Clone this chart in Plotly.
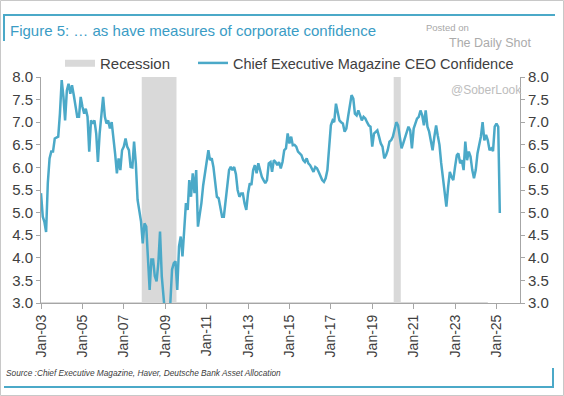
import pandas as pd
import plotly.graph_objects as go

# ---------------- data ----------------
start_month = "2003-01-01"
ceo_2003 = [5.43, 4.91, 4.80, 4.57, 5.65, 6.20, 6.35, 6.35, 6.64, 6.66, 6.68, 7.19]
ceo_2004 = [7.93, 7.56, 7.04, 7.70, 7.85, 7.63, 7.82, 7.60, 7.34, 7.12, 7.12, 7.56]
ceo_2005 = [7.34, 7.19, 7.30, 7.12, 6.35, 7.04, 6.97, 7.04, 6.75, 6.12, 6.75, 7.19]
ceo_2006 = [7.56, 7.12, 6.97, 7.04, 6.86, 7.00, 6.68, 6.30, 5.87, 6.20, 5.94, 6.38]
ceo_2007 = [6.46, 6.64, 6.46, 6.38, 6.01, 6.00, 6.57, 6.09, 5.28, 5.02, 4.80, 4.32]
ceo_2008 = [4.76, 4.69, 3.88, 3.29, 3.96, 3.96, 3.59, 3.48, 3.88, 4.58, 3.59, 2.95]
ceo_2009 = [2.70, 2.60, 2.85, 3.00, 3.74, 3.88, 3.92, 3.29, 4.25, 4.47, 4.03, 4.60]
ceo_2010 = [5.21, 5.06, 5.72, 5.35, 5.87, 5.43, 5.94, 4.69, 4.91, 5.21, 5.60, 5.87]
ceo_2011 = [6.16, 6.38, 6.16, 6.20, 6.01, 5.65, 5.35, 5.32, 5.13, 4.91, 4.91, 5.28]
ceo_2012 = [5.65, 5.94, 6.01, 5.94, 6.01, 5.85, 5.50, 5.35, 5.42, 5.42, 5.20, 5.06]
ceo_2013 = [5.43, 5.65, 5.61, 5.94, 6.05, 5.87, 6.09, 5.94, 5.79, 5.72, 5.65, 5.72]
ceo_2014 = [6.09, 6.12, 5.90, 6.16, 6.12, 6.05, 6.12, 5.98, 6.12, 6.38, 6.42, 6.75]
ceo_2015 = [6.53, 6.68, 6.49, 6.50, 6.46, 6.35, 6.31, 6.27, 6.16, 6.12, 6.20, 6.09]
ceo_2016 = [6.05, 5.98, 5.90, 6.01, 5.98, 5.90, 5.79, 5.72, 5.68, 5.76, 5.94, 6.38]
ceo_2017 = [6.93, 7.04, 7.00, 7.41, 7.23, 7.04, 7.00, 6.97, 6.79, 6.86, 7.12, 7.34]
ceo_2018 = [7.60, 7.52, 7.19, 7.15, 7.26, 7.15, 7.04, 7.12, 7.08, 7.00, 6.93, 6.90]
ceo_2019 = [6.46, 6.75, 6.79, 6.82, 6.68, 6.53, 6.46, 6.20, 6.27, 6.38, 6.57, 6.60]
ceo_2020 = [6.68, 6.82, 7.00, 6.93, 6.64, 6.42, 6.53, 6.64, 6.75, 6.90, 6.82, 6.42]
ceo_2021 = [6.86, 6.97, 7.08, 7.12, 7.26, 7.15, 6.93, 7.26, 6.90, 6.79, 6.60, 6.38]
ceo_2022 = [6.68, 6.93, 6.71, 6.50, 6.10, 5.80, 5.45, 5.13, 5.57, 5.90, 5.79, 5.72]
ceo_2023 = [6.01, 6.27, 6.31, 6.09, 6.16, 5.94, 6.57, 6.16, 6.35, 6.24, 5.94, 5.76]
ceo_2024 = [5.94, 6.31, 6.49, 6.68, 7.00, 6.60, 6.72, 6.60, 6.38, 6.42, 6.36, 6.90]
ceo_2025 = [6.97, 6.90, 4.99]

recession_periods = [("2007-12-01", "2009-06-01"), ("2020-02-01", "2020-04-01")]
recession_series_end = "2024-08-01"

y_range = [3.0, 8.0]
x_range = ["2003-01-01", "2026-02-20"]

title_text = "Figure 5: … as have measures of corporate confidence"
source_text = "Source :Chief Executive Magazine, Haver, Deutsche Bank Asset Allocation"
series_name = "Chief Executive Magazine CEO Confidence"

# ---------------- build ----------------
ceo_values = (ceo_2003 + ceo_2004 + ceo_2005 + ceo_2006 + ceo_2007 + ceo_2008 +
              ceo_2009 + ceo_2010 + ceo_2011 + ceo_2012 + ceo_2013 + ceo_2014 +
              ceo_2015 + ceo_2016 + ceo_2017 + ceo_2018 + ceo_2019 + ceo_2020 +
              ceo_2021 + ceo_2022 + ceo_2023 + ceo_2024 + ceo_2025)
ceo_dates = pd.date_range(start_month, periods=len(ceo_values), freq="MS")

rec_dates = pd.date_range(start_month, recession_series_end, freq="MS")
rec_flag = [any(pd.Timestamp(a) <= d <= pd.Timestamp(b) for a, b in recession_periods)
            for d in rec_dates]
rec_y = [y_range[1] if f else y_range[0] for f in rec_flag]

W, H = 564, 396
ML, MR, MT, MB = 41, 44, 77, 93
PW, PH = W - ML - MR, H - MT - MB


def px(x):
    return (x - ML) / PW


def py(y):
    return (H - MB - y) / PH


TEAL = "#4BA9C8"
AXC = "#A6A6A6"
TXT = "#404040"
FONT = "Liberation Sans, Arial, sans-serif"

fig = go.Figure()
fig.add_trace(go.Scatter(
    x=rec_dates, y=rec_y, name="Recession", mode="lines",
    line=dict(shape="hv", color="#D9D9D9", width=2),
    fill="tozeroy", fillcolor="#D9D9D9", yaxis="y", hoverinfo="skip",
    legend="legend"))
fig.add_trace(go.Scatter(
    x=ceo_dates, y=ceo_values, name=series_name, mode="lines",
    line=dict(color=TEAL, width=2.5), yaxis="y2", legend="legend2"))

axis_common = dict(range=y_range, dtick=0.5, tickformat=".1f", ticks="outside",
                   ticklen=4, tickcolor=AXC, showline=True, linecolor=AXC,
                   linewidth=1, showgrid=False, zeroline=False,
                   tickfont=dict(size=15, color=TXT, family=FONT))

shapes = [
    dict(type="rect", xref="paper", yref="paper", x0=px(0.5), x1=px(W - 0.5),
         y0=py(H - 0.5), y1=py(0.5), line=dict(color="#C8C8C8", width=1)),
    dict(type="line", xref="paper", yref="paper", x0=px(4), x1=px(555),
         y0=py(15), y1=py(15), line=dict(color=TEAL, width=2)),
    dict(type="line", xref="paper", yref="paper", x0=px(4), x1=px(4),
         y0=py(14), y1=py(41), line=dict(color=TEAL, width=2)),
    dict(type="line", xref="paper", yref="paper", x0=px(4), x1=px(554),
         y0=py(387), y1=py(387), line=dict(color=TEAL, width=2)),
    dict(type="line", xref="paper", yref="paper", x0=px(553), x1=px(553),
         y0=py(388), y1=py(368), line=dict(color=TEAL, width=2)),
]

annotations = [
    dict(text="Posted on", xref="paper", yref="paper", x=px(447), y=py(27),
         xanchor="center", yanchor="middle", showarrow=False,
         font=dict(size=9.5, color="#A8A8A8", family=FONT)),
    dict(text="The Daily Shot", xref="paper", yref="paper", x=px(490), y=py(43),
         xanchor="center", yanchor="middle", showarrow=False,
         font=dict(size=12.5, color="#ABABAB", family=FONT)),
    dict(text="@SoberLook", xref="paper", yref="paper", x=px(486), y=py(90),
         xanchor="center", yanchor="middle", showarrow=False,
         font=dict(size=12, color="#BDBDBD", family=FONT)),
    dict(text=source_text, xref="paper", yref="paper", x=px(4), y=py(373),
         xanchor="left", yanchor="middle", showarrow=False,
         font=dict(size=8.3, color=TXT, family=FONT, style="italic")),
]

legend_common = dict(orientation="h", xanchor="left", yanchor="middle",
                     bgcolor="rgba(0,0,0,0)", itemwidth=30)

fig.update_layout(
    width=W, height=H,
    margin=dict(l=ML, r=MR, t=MT, b=MB),
    paper_bgcolor="white", plot_bgcolor="white",
    font=dict(family=FONT, color=TXT),
    title=dict(text=title_text, xref="container", yref="container",
               x=10 / W, xanchor="left", y=1 - 31 / H, yanchor="middle",
               font=dict(size=15, color="#3A9CC5", family=FONT)),
    showlegend=True,
    legend=dict(**legend_common, x=px(60), y=py(63),
                font=dict(size=15, color=TXT, family=FONT)),
    legend2=dict(**legend_common, x=px(193), y=py(63),
                 font=dict(size=14.5, color=TXT, family=FONT)),
    xaxis=dict(type="date", range=x_range, tick0=start_month, dtick="M24",
               tickformat="%b-%y", tickangle=-90, ticks="outside", ticklen=5,
               tickcolor=AXC, showline=True, linecolor=AXC, linewidth=1,
               showgrid=False, zeroline=False,
               tickfont=dict(size=14, color=TXT, family=FONT)),
    yaxis=dict(**axis_common),
    yaxis2=dict(**axis_common, overlaying="y", side="right", anchor="x"),
    shapes=shapes,
    annotations=annotations,
)

fig.write_html(
    "out.html",
    config={"displayModeBar": False},
    post_script="document.body.style.margin='0px';document.body.style.overflow='hidden';",
)
